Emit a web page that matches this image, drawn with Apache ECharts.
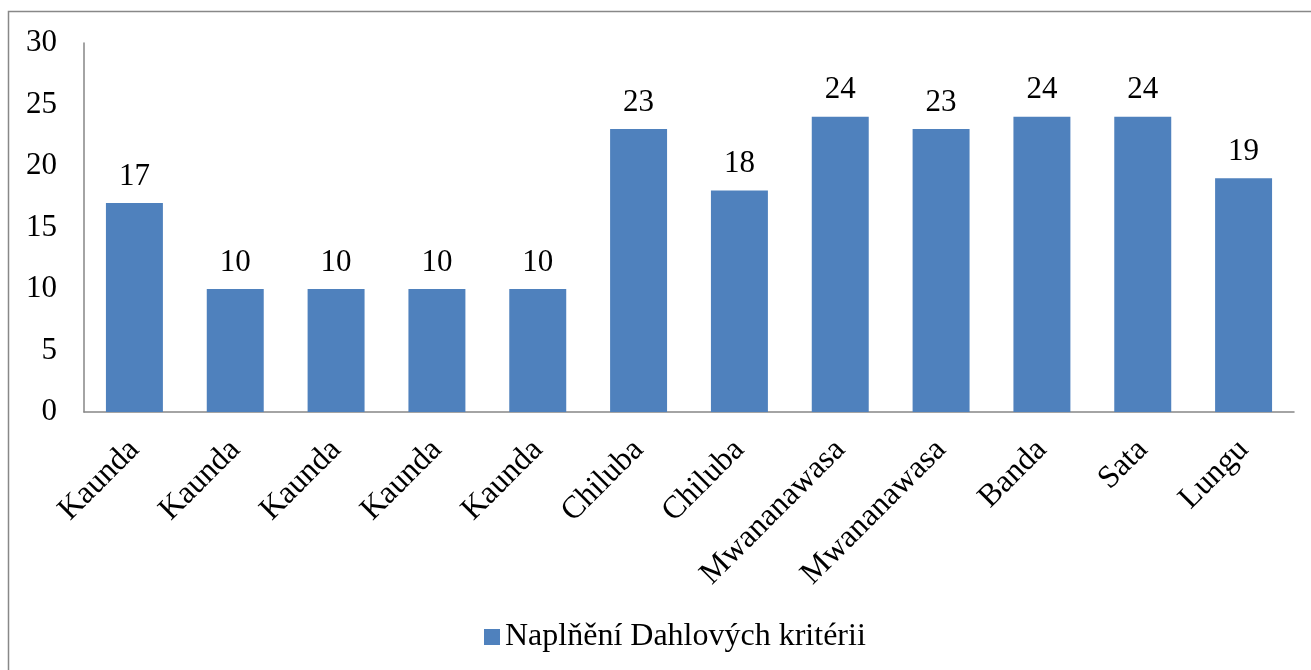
<!DOCTYPE html>
<html><head><meta charset="utf-8">
<script src="https://cdn.jsdelivr.net/npm/echarts@6/dist/echarts.min.js"></script>
<style>html,body{margin:0;padding:0;background:#fff}#c{width:1311px;height:670px}</style>
</head><body><div id="c"></div>
<script>
const categories = ['Kaunda','Kaunda','Kaunda','Kaunda','Kaunda','Chiluba','Chiluba','Mwananawasa','Mwananawasa','Banda','Sata','Lungu'];
const values = [17,10,10,10,10,23,18,24,23,24,24,19];
const seriesName = 'Naplňění Dahlových kritérii';
const FONT = '"Liberation Serif","Times New Roman",serif';
const chart = echarts.init(document.getElementById('c'));
chart.setOption({
  animation:false,
  graphic:[{type:'rect',shape:{x:8.5,y:11.5,width:1400,height:800},style:{fill:'none',stroke:'#888',lineWidth:1.5}}],
  grid:{left:84,right:17,top:43,bottom:258,containLabel:false},
  legend:{top:616,left:479,itemWidth:16,itemHeight:16,itemGap:8,icon:'rect',
    textStyle:{fontFamily:FONT,fontSize:32,color:'#000'},data:[seriesName]},
  xAxis:{type:'category',data:categories,
    axisLine:{lineStyle:{color:'#868686',width:1.5}},axisTick:{show:false},
    axisLabel:{rotate:45,fontFamily:FONT,fontSize:32,color:'#000',interval:0,margin:33,padding:[0,0,0,0]}},
  yAxis:{type:'value',min:0,max:30,interval:5,
    axisLine:{show:true,lineStyle:{color:'#868686',width:1.5}},axisTick:{show:false},splitLine:{show:false},
    axisLabel:{fontFamily:FONT,fontSize:31,color:'#000',margin:27}},
  series:[{type:'bar',name:seriesName,data:values,barWidth:'56.5%',
    itemStyle:{color:'#4F81BD'},
    label:{show:true,position:'top',distance:11,fontFamily:FONT,fontSize:31,color:'#000'}}]
});
</script></body></html>
